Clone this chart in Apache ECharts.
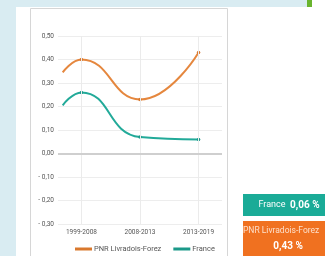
<!DOCTYPE html>
<html>
<head>
<meta charset="utf-8">
<script src="https://cdn.jsdelivr.net/npm/echarts@6/dist/echarts.min.js"></script>
<style>
  html, body { margin: 0; padding: 0; background: #fff; }
  #chart { width: 325px; height: 256px; }
</style>
</head>
<body>
<div id="chart"></div>
<script>
// periods on the x axis (positions 0, 1, 2)
const categories = ['1999-2008', '2008-2013', '2013-2019']
// the curves start a bit before the first period
const leadX = -0.32
const pnrLead = 0.345
const franceLead = 0.205
const pnrValues = [0.40, 0.23, 0.43]
const franceValues = [0.26, 0.07, 0.06]
const yTicks = [-0.3, -0.2, -0.1, 0, 0.1, 0.2, 0.3, 0.4, 0.5]

const fmtY = v => {
  const s = Math.abs(v).toFixed(2).replace('.', ',')
  return v < -1e-9 ? '- ' + s : s
}
const fmtPct = v => v.toFixed(2).replace('.', ',') + ' %'

const toSeries = (lead, vals) => [{ value: [leadX, lead], symbol: 'none' }]
  .concat(vals.map((v, i) => [i, v]))

const chart = echarts.init(document.getElementById('chart'))
chart.setOption({
  animation: false,
  textStyle: { fontFamily: 'Roboto' },
  graphic: [
    { type: 'rect', shape: { x: 0, y: 0, width: 307, height: 7 }, style: { fill: '#d9ecf2' }, z: -10 },
    { type: 'rect', shape: { x: 0, y: 0, width: 16, height: 256 }, style: { fill: '#d9ecf2' }, z: -10 },
    { type: 'rect', shape: { x: 307, y: 0, width: 5, height: 7 }, style: { fill: '#69b42e' }, z: -10 },
    { type: 'rect', shape: { x: 30.5, y: 8.5, width: 197, height: 250 }, style: { fill: '#fff', stroke: '#d6d6d6', lineWidth: 1 }, z: -9 },
    { type: 'rect', shape: { x: 243, y: 194, width: 90, height: 22 }, style: { fill: '#1aab97' } },
    {
      type: 'text', x: 289, y: 205,
      style: {
        text: '{a|France  }{b|' + fmtPct(franceValues[2]) + '}',
        align: 'center', verticalAlign: 'middle',
        rich: {
          a: { fill: '#fff', fontSize: 9, fontFamily: 'Roboto' },
          b: { fill: '#fff', fontSize: 10, fontWeight: 'bold', fontFamily: 'Roboto' }
        }
      }
    },
    { type: 'rect', shape: { x: 243, y: 221, width: 90, height: 40 }, style: { fill: '#f07120' } },
    {
      type: 'text', x: 243, y: 231,
      style: { text: 'PNR Livradois-Forez', fill: '#fde0cc', fontSize: 8.5, fontFamily: 'Roboto', verticalAlign: 'middle' }
    },
    {
      type: 'text', x: 288, y: 246,
      style: { text: fmtPct(pnrValues[2]), fill: '#fff', fontSize: 10, fontWeight: 'bold', fontFamily: 'Roboto', align: 'center', verticalAlign: 'middle' }
    }
  ],
  grid: { left: 58, right: 103, top: 36, bottom: 32 },
  legend: {
    left: 70, top: 240,
    itemWidth: 17, itemHeight: 3, itemGap: 12,
    icon: 'rect',
    textStyle: { fontSize: 7.5, color: '#555', padding: [0, 0, 0, -3] },
    data: ['PNR Livradois-Forez', 'France']
  },
  xAxis: {
    type: 'value',
    min: -0.4, max: 2.4, interval: 0.2,
    axisLine: { show: false },
    axisTick: { show: false },
    splitLine: { show: false },
    axisLabel: {
      fontSize: 6.5, color: '#555', margin: 5,
      formatter: v => {
        const i = Math.round(v)
        return Math.abs(v - i) < 1e-6 && categories[i] ? categories[i] : ''
      }
    }
  },
  yAxis: {
    type: 'value',
    min: yTicks[0], max: yTicks[yTicks.length - 1], interval: 0.1,
    axisLine: { show: false },
    axisTick: { show: false },
    splitLine: { lineStyle: { color: '#ededed', width: 1 } },
    axisLabel: { fontSize: 6.5, color: '#555', margin: 4, formatter: fmtY }
  },
  series: [
    {
      name: 'PNR Livradois-Forez',
      type: 'line',
      smooth: 0.5,
      data: toSeries(pnrLead, pnrValues),
      symbol: 'circle', symbolSize: 3.5,
      color: '#e5873e',
      itemStyle: { color: '#d9782d' },
      lineStyle: { width: 2, color: '#e5873e' },
      markLine: {
        silent: true, symbol: 'none', label: { show: false },
        lineStyle: { color: '#ebebeb', width: 1, type: 'solid' },
        data: categories.map((c, i) => ({ xAxis: i }))
          .concat([{ yAxis: 0, lineStyle: { color: '#cfcfcf', width: 2 } }])
      },
      z: 3
    },
    {
      name: 'France',
      type: 'line',
      smooth: 0.5,
      data: toSeries(franceLead, franceValues),
      symbol: 'circle', symbolSize: 3.5,
      color: '#22aa99',
      itemStyle: { color: '#1b9989' },
      lineStyle: { width: 2, color: '#22aa99' },
      z: 3
    }
  ]
})
</script>
</body>
</html>
